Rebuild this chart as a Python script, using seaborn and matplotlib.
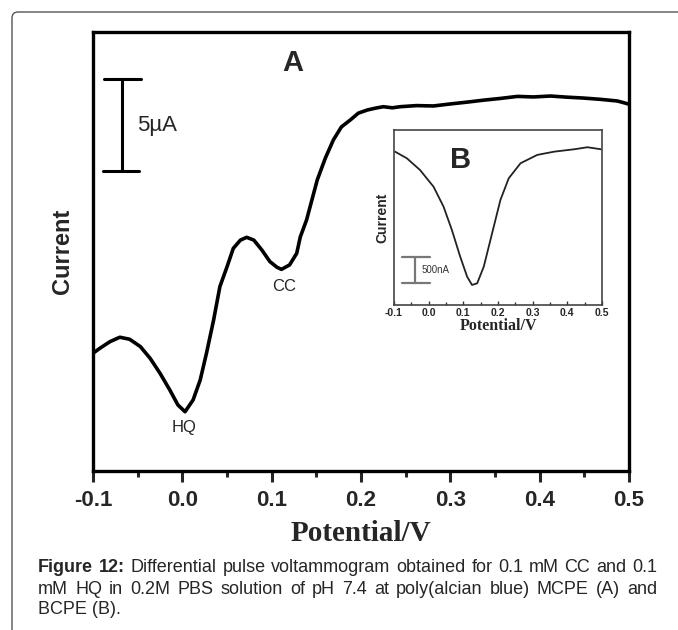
import numpy as np
import pandas as pd
import matplotlib.pyplot as plt
import seaborn as sns
from matplotlib.patches import FancyBboxPatch
from matplotlib.ticker import MultipleLocator

# curve A (poly(alcian blue) MCPE): potential in V, current in uA (offset arbitrary)
pot_a = [-0.100, -0.092, -0.081, -0.070, -0.059, -0.047, -0.036, -0.025, -0.014, -0.005,
         0.003, 0.012, 0.020, 0.027, 0.035, 0.042, 0.050, 0.057, 0.065, 0.072,
         0.080, 0.089, 0.098, 0.106, 0.111, 0.120, 0.128, 0.132, 0.139, 0.151, 0.160,
         0.169, 0.178, 0.188, 0.197, 0.207, 0.216, 0.225, 0.235, 0.244, 0.262,
         0.281, 0.300, 0.319, 0.338, 0.356, 0.375, 0.393, 0.412, 0.430,
         0.449, 0.468, 0.487, 0.499]
cur_a = [6.40, 6.68, 7.03, 7.27, 7.16, 6.76, 6.12, 5.31, 4.40, 3.59,
         3.22, 3.86, 4.95, 6.40, 8.21, 10.02, 11.10, 12.10, 12.55, 12.70,
         12.55, 12.01, 11.38, 11.07, 10.96, 11.20, 11.83, 12.72, 13.64, 15.82, 17.00,
         17.99, 18.70, 19.08, 19.45, 19.62, 19.72, 19.80, 19.74, 19.80, 19.86,
         19.84, 19.95, 20.05, 20.16, 20.25, 20.36, 20.33, 20.38, 20.32,
         20.27, 20.20, 20.11, 19.95]

# curve B (BCPE): potential in V, current in nA (offset arbitrary)
pot_b = [-0.097, -0.063, -0.025, 0.014, 0.043, 0.067, 0.091, 0.111, 0.125, 0.140,
         0.159, 0.183, 0.207, 0.231, 0.265, 0.313, 0.362, 0.420, 0.458, 0.497]
cur_b = [2948, 2821, 2596, 2275, 1890, 1442, 929, 544, 385, 417,
         737, 1379, 2019, 2436, 2725, 2885, 2948, 2994, 3033, 2994]

xticks = [-0.1, 0.0, 0.1, 0.2, 0.3, 0.4, 0.5]
xtick_labels = ["-0.1", "0.0", "0.1", "0.2", "0.3", "0.4", "0.5"]

scale_a = 5      # uA
scale_b = 500    # nA

caption_line1 = [("Figure", "bold"), ("12:", "bold")] + [
    (w, "normal") for w in "Differential pulse voltammogram obtained for 0.1 mM CC and 0.1".split()]
caption_line2 = [(w, "normal") for w in
                 "mM HQ in 0.2M PBS solution of pH 7.4 at poly(alcian blue) MCPE (A) and".split()]
caption_line3 = "BCPE (B)."

df_a = pd.DataFrame({"Potential": pot_a, "Current": cur_a})
df_b = pd.DataFrame({"Potential": pot_b, "Current": cur_b})

sns.set_style("white")
plt.rcParams["font.family"] = ["Liberation Sans", "DejaVu Sans"]

fig = plt.figure(figsize=(6.78, 6.30), dpi=100)

# outer frame of the figure panel
frame = FancyBboxPatch((0.12, -1.0), 10, 7.18, boxstyle="round,pad=0,rounding_size=0.06",
                       transform=fig.dpi_scale_trans, fill=False, edgecolor="#555555",
                       linewidth=1.0)
fig.patches.append(frame)

# main plot
ax = fig.add_axes([0.1372, 0.2524, 0.7906, 0.6968])
sns.lineplot(data=df_a, x="Potential", y="Current", ax=ax, color="black", linewidth=2.6,
             sort=False)
ax.set_xlim(-0.1, 0.5)
ax.set_ylim(0, 23.86)
ax.set_xticks(xticks)
ax.set_xticklabels(xtick_labels, fontsize=16, fontweight="bold")
ax.xaxis.set_minor_locator(MultipleLocator(0.05))
ax.tick_params(axis="x", which="major", direction="out", length=8, width=2.2, pad=6,
               bottom=True)
ax.tick_params(axis="x", which="minor", direction="out", length=4, width=2.2, bottom=True)
ax.set_yticks([])
for sp in ax.spines.values():
    sp.set_linewidth(2.4)
    sp.set_color("black")
ax.set_xlabel("Potential/V", family="Liberation Serif", fontsize=21, fontweight="bold",
              labelpad=6)
ax.set_ylabel("Current", fontsize=17, fontweight="bold", labelpad=14)

# 5 uA scale bar
bar_x, bar_lo = -0.0675, 16.3
ax.plot([bar_x, bar_x], [bar_lo, bar_lo + scale_a], color="black", linewidth=2.2)
ax.plot([bar_x - 0.020, bar_x + 0.021], [bar_lo + scale_a] * 2, color="black", linewidth=2.2)
ax.plot([bar_x - 0.021, bar_x + 0.019], [bar_lo] * 2, color="black", linewidth=2.2)
ax.text(-0.0505, bar_lo + scale_a / 2, "5\u00b5A", fontsize=16, va="center", ha="left")

ax.text(0.124, 22.17, "A", fontsize=21, fontweight="bold", ha="center", va="center")
ax.text(0.002, 2.39, "HQ", fontsize=12, ha="center", va="center")
ax.text(0.114, 10.05, "CC", fontsize=12, ha="center", va="center")

# inset
ins = fig.add_axes([0.5811, 0.5159, 0.3068, 0.2778])
sns.lineplot(data=df_b, x="Potential", y="Current", ax=ins, color="#222222", linewidth=1.3,
             sort=False)
ins.set_xlim(-0.1, 0.5)
ins.set_ylim(0, 3365)
ins.set_xticks(xticks)
ins.set_xticklabels(xtick_labels, fontsize=7.5, fontweight="bold")
ins.xaxis.set_minor_locator(MultipleLocator(0.05))
ins.tick_params(axis="x", which="major", direction="in", length=3, width=1.0, pad=2,
                bottom=True, color="#333333")
ins.tick_params(axis="x", which="minor", direction="in", length=2, width=1.0, bottom=True,
                color="#333333")
ins.set_yticks([])
for sp in ins.spines.values():
    sp.set_linewidth(1.2)
    sp.set_color("#444444")
ins.set_xlabel("Potential/V", family="Liberation Serif", fontsize=11.5, fontweight="bold",
               labelpad=0)
ins.set_ylabel("Current", fontsize=10, fontweight="bold", labelpad=3)

ib_x, ib_lo = -0.039, 423
ins.plot([ib_x, ib_x], [ib_lo, ib_lo + scale_b], color="#777777", linewidth=1.6)
ins.plot([-0.077, 0.004], [ib_lo + scale_b] * 2, color="#777777", linewidth=1.6)
ins.plot([-0.077, 0.004], [ib_lo] * 2, color="#777777", linewidth=1.6)
ins.text(-0.0217, ib_lo + scale_b / 2, "500nA", fontsize=7, va="center", ha="left",
         color="#333333")
ins.text(0.091, 2788, "B", fontsize=21, fontweight="bold", ha="center", va="center")


# caption, justified between x0 and x1 (pixels)
def justified(words, y_px, x0=38, x1=657, size=13):
    renderer = fig.canvas.get_renderer()
    arts = [fig.text(0, 0, w, fontsize=size, fontweight=wt, va="center", ha="left",
                     transform=None) for w, wt in words]
    widths = [a.get_window_extent(renderer).width for a in arts]
    gap = (x1 - x0 - sum(widths)) / (len(arts) - 1)
    x = x0
    for a, w in zip(arts, widths):
        a.set_position((x, 630 - y_px))
        x += w + gap


justified(caption_line1, 568)
justified(caption_line2, 589)
fig.text(38 / 678, 1 - 609 / 630, caption_line3, fontsize=13, va="center", ha="left")

fig.savefig("out.png", dpi=100)
